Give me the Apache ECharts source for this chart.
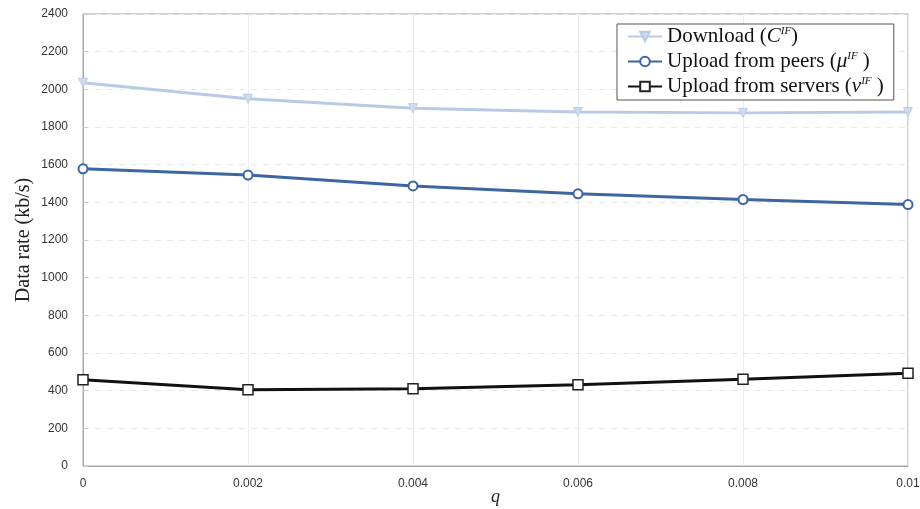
<!DOCTYPE html>
<html><head><meta charset="utf-8">
<script src="https://cdn.jsdelivr.net/npm/echarts@6/dist/echarts.min.js"></script>
<style>html,body{margin:0;padding:0;background:#fff}#c{width:920px;height:509px}</style>
</head><body><div id="c"></div>
<script>
const qValues = [0, 0.002, 0.004, 0.006, 0.008, 0.01];
const download = [2035, 1950, 1900, 1880, 1875, 1880];
const uploadPeers = [1578, 1545, 1487, 1445, 1415, 1388];
const uploadServers = [458, 405, 410, 432, 460, 492];
const seriesNames = ['Download', 'Upload from peers', 'Upload from servers'];
const yTicks = [0, 200, 400, 600, 800, 1000, 1200, 1400, 1600, 1800, 2000, 2200, 2400];

const pair = (vals) => qValues.map((q, i) => [q, vals[i]]);
const chart = echarts.init(document.getElementById('c'));
const serif = '"Liberation Serif","DejaVu Serif",serif';
chart.setOption({
  animation: false,
  grid: {left: 83, right: 12, top: 14, bottom: 43, show: true, borderColor: '#a6a6a6', borderWidth: 1,
    containLabel: false, outerBoundsMode: 'none'},
  xAxis: {
    type: 'value', min: 0, max: 0.01, interval: 0.002,
    name: 'q', nameLocation: 'middle', nameGap: 22, nameMoveOverlap: false,
    nameTextStyle: {fontFamily: serif, fontStyle: 'italic', fontSize: 18, color: '#222', verticalAlign: 'top'},
    axisLine: {lineStyle: {color: '#a6a6a6'}},
    axisTick: {show: false},
    axisLabel: {fontFamily: '"Liberation Sans Narrow","Liberation Sans",Arial,sans-serif', fontSize: 12, color: '#333', margin: 12,
      formatter: v => String(+v.toFixed(3))},
    splitLine: {show: true, lineStyle: {color: '#ececec'}}
  },
  yAxis: {
    type: 'value', min: yTicks[0], max: yTicks[yTicks.length - 1], interval: 200,
    name: 'Data rate (kb/s)', nameLocation: 'middle', nameGap: 49, nameMoveOverlap: false,
    nameTextStyle: {fontFamily: serif, fontSize: 20, color: '#222'},
    axisLine: {show: true, lineStyle: {color: '#a6a6a6'}},
    axisTick: {show: true, inside: true, length: 5, lineStyle: {color: '#c8c8c8'}},
    axisLabel: {fontFamily: '"Liberation Sans",Arial,sans-serif', fontSize: 12, color: '#333', margin: 15,
      formatter: v => String(v)},
    splitLine: {show: true, lineStyle: {color: '#e6e6e6', type: [6, 6]}}
  },
  legend: {
    left: 617, top: 24, orient: 'vertical', itemGap: 4, itemWidth: 34, itemHeight: 12,
    backgroundColor: '#fff', borderColor: '#555', borderWidth: 1, padding: [2, 10, 3, 10],
    data: seriesNames,
    formatter: function (n) {
      if (n === seriesNames[0]) return 'Download ({it|C}{sup|IF})';
      if (n === seriesNames[1]) return 'Upload from peers ({it|μ}{sup|IF} )';
      return 'Upload from servers ({it|ν}{sup|IF} )';
    },
    textStyle: {fontFamily: serif, fontSize: 21, color: '#111',
      rich: {
        it: {fontFamily: serif, fontStyle: 'italic', fontSize: 21, color: '#111'},
        sup: {fontFamily: serif, fontStyle: 'italic', fontSize: 11, color: '#111', verticalAlign: 'top', padding: [0, 0, 10, 0]}
      }}
  },
  series: [
    {name: seriesNames[0], type: 'line', data: pair(download), color: '#b8cbe6',
      symbol: 'triangle', symbolRotate: 180, symbolSize: 9,
      lineStyle: {width: 3, color: '#b8cbe6'}, itemStyle: {color: '#cfdcee', borderColor: '#b8cbe6', borderWidth: 1}},
    {name: seriesNames[1], type: 'line', data: pair(uploadPeers), color: '#3d65a0',
      symbol: 'circle', symbolSize: 9,
      lineStyle: {width: 3, color: '#3d65a0'}, itemStyle: {color: '#fff', borderColor: '#3d65a0', borderWidth: 2}},
    {name: seriesNames[2], type: 'line', data: pair(uploadServers), color: '#111',
      symbol: 'rect', symbolSize: 10,
      lineStyle: {width: 3, color: '#111'}, itemStyle: {color: '#fff', borderColor: '#222', borderWidth: 1.5}}
  ]
});
</script></body></html>
